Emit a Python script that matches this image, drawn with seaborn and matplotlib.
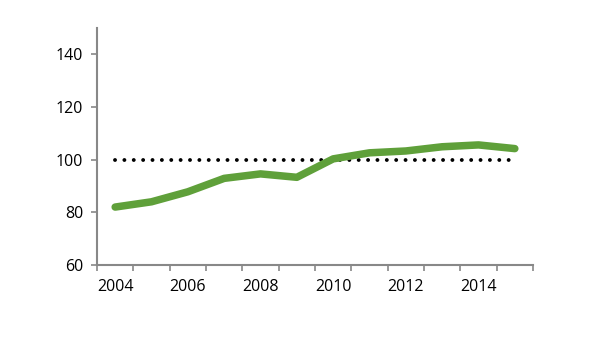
import matplotlib
matplotlib.use("Agg")
import matplotlib.pyplot as plt
import seaborn as sns
import pandas as pd
from matplotlib.ticker import FixedLocator

years = [2004, 2005, 2006, 2007, 2008, 2009, 2010, 2011, 2012, 2013, 2014, 2015]
index_values = [82, 84, 87.8, 92.9, 94.6, 93.3, 100.3, 102.6, 103.3, 104.9, 105.6, 104.2]
baseline = [100] * len(years)
y_ticks = [60, 80, 100, 120, 140]

sns.set_theme(style="white")
plt.rcParams['font.family'] = ['Open Sans', 'DejaVu Sans']

df = pd.DataFrame({"pos": range(len(years)), "year": years,
                   "value": index_values, "base": baseline})

fig = plt.figure(figsize=(5.9, 3.37), dpi=100)
ax = fig.add_axes([97/590, 1-265/337, (533-97)/590, (265-28)/337])

sns.lineplot(data=df, x="pos", y="base", ax=ax, color="black", lw=2.8,
             linestyle=(0, (0.01, 2.4)), dash_capstyle="round")
sns.lineplot(data=df, x="pos", y="value", ax=ax, color="#5fa03a", lw=5.4,
             solid_capstyle="round", solid_joinstyle="round")

ax.set_xlim(-0.5, len(years) - 0.5)
ax.set_ylim(60, 150)
ax.set_yticks(y_ticks)
ax.set_yticklabels([str(v) for v in y_ticks])
label_pos = list(range(0, len(years), 2))
ax.set_xticks(label_pos)
ax.set_xticklabels([str(years[i]) for i in label_pos])
ax.xaxis.set_minor_locator(FixedLocator([i - 0.5 for i in range(len(years) + 1)]))
ax.tick_params(axis="x", which="major", length=0, pad=10, labelsize=11.5, colors="black")
ax.tick_params(axis="x", which="minor", length=4, width=1.2, color="#888888", direction="out", bottom=True)
ax.tick_params(axis="y", length=4, width=1.2, color="#888888", direction="out", left=True,
               labelsize=11.5, labelcolor="black", pad=6)
ax.set_xlabel("")
ax.set_ylabel("")
for s in ["top", "right"]:
    ax.spines[s].set_visible(False)
for s in ["left", "bottom"]:
    ax.spines[s].set_color("#888888")
    ax.spines[s].set_linewidth(1.5)

fig.savefig("out.png", dpi=100)
